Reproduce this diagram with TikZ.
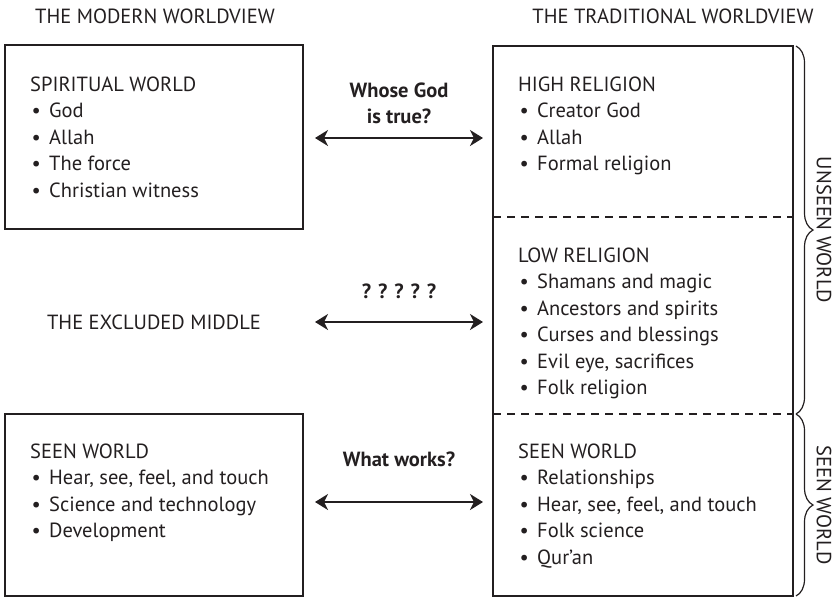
\documentclass[tikz,border=0pt]{standalone}
\usepackage{fontspec}
\setmainfont{PT Sans}
\usetikzlibrary{arrows.meta,decorations.pathreplacing}
\definecolor{ink}{RGB}{35,31,32}
\newcommand\itm[1]{\makebox[19pt][l]{\hspace{1.5pt}\textbullet}#1}
\begin{document}
\begin{tikzpicture}[x=1pt,y=-1pt,
  txt/.style={anchor=base west, inner sep=0pt, text=ink, font=\fontsize{20.5}{24}\selectfont},
  ctr/.style={anchor=base, inner sep=0pt, text=ink, font=\fontsize{20.5}{24}\selectfont},
  lbl/.style={anchor=base, inner sep=0pt, text=ink, font=\fontsize{20.5}{24}\selectfont\bfseries},
  box/.style={draw=ink, line width=2pt, inner sep=0pt, outer sep=0pt, anchor=north west},
  dbl/.style={draw=ink, line width=2pt, {Stealth[length=13pt,width=16pt,inset=4pt]}-{Stealth[length=13pt,width=16pt,inset=4pt]}},
  sep/.style={draw=ink, line width=2pt, dash pattern=on 8pt off 6pt},
  brc/.style={draw=ink, line width=1.2pt, decorate, decoration={brace, amplitude=17pt}},
]
\useasboundingbox (0,0) rectangle (837,598);

% headers
\node[ctr] (hmod) at (155,23) {THE MODERN WORLDVIEW};
\node[ctr] (htrad) at (673,23) {THE TRADITIONAL WORLDVIEW};

% boxes
\node[box, minimum width=298pt, minimum height=184pt] (spirit) at (5,45) {};
\node[box, minimum width=298pt, minimum height=182pt] (seenL) at (5,414) {};
\node[box, minimum width=300pt, minimum height=550pt] (trad) at (493,46) {};

% dashed separators
\coordinate (d1) at (0,217);
\coordinate (d2) at (0,414);
\draw[sep] (trad.west |- d1) -- (trad.east |- d1);
\draw[sep] (trad.west |- d2) -- (trad.east |- d2);

% left lists
\node[txt] (swt) at (30,91) {SPIRITUAL WORLD};
\foreach \t [count=\k] in {God, Allah, The force, Christian witness}
  \node[txt] (sw\k) at (30,{91+26.5*\k}) {\itm{\t}};
\node[txt] (slt) at (30,458) {SEEN WORLD};
\foreach \t [count=\k] in {{Hear, see, feel, and touch}, Science and technology, Development}
  \node[txt] (sl\k) at (30,{458+26.5*\k}) {\itm{\t}};

% right lists
\node[txt] (hrt) at (518,91) {HIGH RELIGION};
\foreach \t [count=\k] in {Creator God, Allah, Formal religion}
  \node[txt] (hr\k) at (518,{91+26.5*\k}) {\itm{\t}};
\node[txt] (lrt) at (518,262) {LOW RELIGION};
\foreach \t [count=\k] in {Shamans and magic, Ancestors and spirits, Curses and blessings, {Evil eye, sacrifices}, Folk religion}
  \node[txt] (lr\k) at (518,{262+26.5*\k}) {\itm{\t}};
\node[txt] (srt) at (518,458) {SEEN WORLD};
\foreach \t [count=\k] in {Relationships, {Hear, see, feel, and touch}, Folk science, Qur’an}
  \node[txt] (sr\k) at (518,{458+26.5*\k}) {\itm{\t}};

% middle
\node[ctr] (excl) at (154,329) {THE EXCLUDED MIDDLE};
\node[lbl] (q1a) at (399,97) {Whose God};
\node[lbl] (q1b) at (399,123) {is true?};
\node[lbl] (q2) at (399,298) {? ? ? ? ?};
\node[lbl] (q3) at (399,466) {What works?};

\coordinate (a1l) at (315,138); \coordinate (a1r) at (483,138);
\coordinate (a2l) at (315,322); \coordinate (a2r) at (483,322);
\coordinate (a3l) at (315,502); \coordinate (a3r) at (483,502);
\draw[dbl] (a1l) -- (a1r);
\draw[dbl] (a2l) -- (a2r);
\draw[dbl] (a3l) -- (a3r);

% braces
\coordinate (b1t) at (796,46);
\coordinate (b1b) at (796,414);
\coordinate (b2b) at (796,596);
\draw[brc] (b1t) -- (b1b);
\draw[brc] (b1b) -- (b2b);
\node[ctr, anchor=center, rotate=-90] (unseen) at (824,230) {UNSEEN WORLD};
\node[ctr, anchor=center, rotate=-90] (seenlbl) at (824,505) {SEEN WORLD};
\end{tikzpicture}
\end{document}
